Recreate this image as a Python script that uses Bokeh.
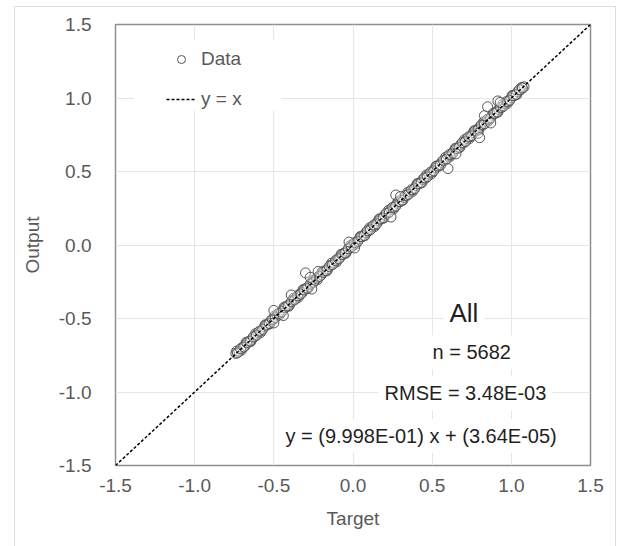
from bokeh.plotting import figure
from bokeh.models import (Range1d, FixedTicker, PrintfTickFormatter, Label,
                          Legend, LegendItem, BoxAnnotation, ColumnDataSource)
from bokeh.embed import file_html
from bokeh.resources import INLINE

# ---------------- data ----------------
axis_limits = [-1.5, 1.5]
tick_values = [-1.5, -1.0, -0.5, 0.0, 0.5, 1.0, 1.5]
identity_line = [-1.5, 1.5]

target_a = [-0.74, -0.72, -0.70, -0.68, -0.66, -0.64, -0.62, -0.60, -0.58, -0.56,
            -0.54, -0.52, -0.50, -0.48, -0.46, -0.44, -0.42, -0.40, -0.38, -0.36,
            -0.34, -0.32, -0.30, -0.28, -0.26, -0.24, -0.22, -0.20, -0.18, -0.16,
            -0.14, -0.12, -0.10, -0.08, -0.06, -0.04, -0.02, 0.00, 0.02, 0.04,
            0.06, 0.08, 0.10, 0.12, 0.14, 0.16, 0.18, 0.20, 0.22, 0.24,
            0.26, 0.28, 0.30, 0.32, 0.34, 0.36, 0.38, 0.40, 0.42, 0.44,
            0.46, 0.48, 0.50, 0.52, 0.54, 0.56, 0.58, 0.60, 0.62, 0.64,
            0.66, 0.68, 0.70, 0.72, 0.74, 0.76, 0.78, 0.80, 0.82, 0.84,
            0.86, 0.88, 0.90, 0.92, 0.94, 0.96, 0.98, 1.00, 1.02, 1.04,
            1.06, 1.08]
output_a = [-0.737, -0.723, -0.698, -0.684, -0.657, -0.643, -0.622, -0.596, -0.584, -0.557,
            -0.543, -0.516, -0.503, -0.477, -0.463, -0.442, -0.416, -0.404, -0.377, -0.364,
            -0.336, -0.323, -0.297, -0.284, -0.256, -0.243, -0.217, -0.203, -0.176, -0.164,
            -0.137, -0.123, -0.098, -0.083, -0.057, -0.043, -0.018, 0.003, 0.017, 0.043,
            0.057, 0.083, 0.097, 0.124, 0.136, 0.163, 0.177, 0.204, 0.216, 0.243,
            0.257, 0.284, 0.296, 0.323, 0.337, 0.364, 0.376, 0.403, 0.417, 0.444,
            0.456, 0.483, 0.497, 0.524, 0.536, 0.563, 0.577, 0.604, 0.616, 0.643,
            0.657, 0.684, 0.696, 0.723, 0.737, 0.764, 0.776, 0.803, 0.817, 0.844,
            0.856, 0.883, 0.897, 0.923, 0.937, 0.962, 0.977, 1.003, 1.017, 1.042,
            1.057, 1.076]

target_b = [-0.73, -0.71, -0.69, -0.67, -0.65, -0.63, -0.61, -0.59, -0.57, -0.55,
            -0.53, -0.51, -0.49, -0.47, -0.45, -0.43, -0.41, -0.39, -0.37, -0.35,
            -0.33, -0.31, -0.29, -0.27, -0.25, -0.23, -0.21, -0.19, -0.17, -0.15,
            -0.13, -0.11, -0.09, -0.07, -0.05, -0.03, -0.01, 0.01, 0.03, 0.05,
            0.07, 0.09, 0.11, 0.13, 0.15, 0.17, 0.19, 0.21, 0.23, 0.25,
            0.27, 0.29, 0.31, 0.33, 0.35, 0.37, 0.39, 0.41, 0.43, 0.45,
            0.47, 0.49, 0.51, 0.53, 0.55, 0.57, 0.59, 0.61, 0.63, 0.65,
            0.67, 0.69, 0.71, 0.73, 0.75, 0.77, 0.79, 0.81, 0.83, 0.85,
            0.87, 0.89, 0.91, 0.93, 0.95, 0.97, 0.99, 1.01, 1.03, 1.05,
            1.07]
output_b = [-0.734, -0.706, -0.694, -0.666, -0.654, -0.626, -0.614, -0.586, -0.574, -0.546,
            -0.534, -0.506, -0.494, -0.466, -0.454, -0.426, -0.414, -0.386, -0.374, -0.346,
            -0.334, -0.306, -0.294, -0.266, -0.254, -0.226, -0.214, -0.186, -0.174, -0.146,
            -0.134, -0.106, -0.094, -0.066, -0.054, -0.026, -0.014, 0.016, 0.024, 0.056,
            0.064, 0.096, 0.104, 0.136, 0.144, 0.176, 0.184, 0.216, 0.224, 0.256,
            0.264, 0.296, 0.304, 0.336, 0.344, 0.376, 0.384, 0.416, 0.424, 0.456,
            0.464, 0.496, 0.504, 0.536, 0.544, 0.576, 0.584, 0.616, 0.624, 0.656,
            0.664, 0.696, 0.704, 0.736, 0.744, 0.776, 0.784, 0.816, 0.824, 0.856,
            0.864, 0.896, 0.904, 0.936, 0.944, 0.976, 0.984, 1.016, 1.024, 1.056,
            1.068]

target_c = [-0.735, -0.705, -0.675, -0.645, -0.615, -0.585, -0.555, -0.525, -0.495, -0.465,
            -0.435, -0.405, -0.375, -0.345, -0.315, -0.285, -0.255, -0.225, -0.195, -0.165,
            -0.135, -0.105, -0.075, -0.045, -0.015, 0.015, 0.045, 0.075, 0.105, 0.135,
            0.165, 0.195, 0.225, 0.255, 0.285, 0.315, 0.345, 0.375, 0.405, 0.435,
            0.465, 0.495, 0.525, 0.555, 0.585, 0.615, 0.645, 0.675, 0.705, 0.735,
            0.765, 0.795, 0.825, 0.855, 0.885, 0.915, 0.945, 0.975, 1.005, 1.035,
            1.065]
output_c = [-0.722, -0.716, -0.662, -0.656, -0.603, -0.597, -0.543, -0.536, -0.483, -0.476,
            -0.423, -0.416, -0.362, -0.356, -0.303, -0.296, -0.243, -0.236, -0.183, -0.176,
            -0.123, -0.116, -0.063, -0.056, -0.003, 0.004, 0.057, 0.064, 0.117, 0.124,
            0.177, 0.184, 0.237, 0.244, 0.297, 0.304, 0.357, 0.364, 0.417, 0.424,
            0.477, 0.484, 0.537, 0.544, 0.597, 0.604, 0.657, 0.664, 0.717, 0.724,
            0.777, 0.784, 0.837, 0.844, 0.897, 0.904, 0.957, 0.964, 1.017, 1.024,
            1.072]

target_out = [-0.50, -0.50, -0.44, -0.39, -0.30, -0.27, -0.26, -0.22, -0.025, 0.01,
              0.24, 0.27, 0.30, 0.60, 0.65, 0.79, 0.80, 0.83, 0.85, 0.87, 0.915, 0.93]
output_out = [-0.445, -0.53, -0.48, -0.34, -0.19, -0.22, -0.30, -0.18, 0.02, -0.02,
              0.19, 0.34, 0.33, 0.52, 0.62, 0.76, 0.73, 0.88, 0.94, 0.83, 0.98, 0.97]

n_points = 5682
rmse_text = "3.48E-03"
slope_text = "9.998E-01"
intercept_text = "3.64E-05"

# ---------------- figure ----------------
FONT = "Liberation Sans"
GRAY = "#595959"

p = figure(width=600, height=540, output_backend="svg", toolbar_location=None,
           x_range=Range1d(*axis_limits), y_range=Range1d(*axis_limits),
           min_border_left=100, min_border_right=25, min_border_top=17,
           min_border_bottom=82)
p.margin = (7, 0, 0, 15)
p.styles = {"box-shadow": "0 0 0 1px #dedede"}
p.background_fill_color = "white"
p.border_fill_color = "white"
p.outline_line_color = "#8f8f8f"
p.outline_line_width = 1.5

for ax in (p.xaxis[0], p.yaxis[0]):
    ax.ticker = FixedTicker(ticks=tick_values)
    ax.formatter = PrintfTickFormatter(format="%.1f")
    ax.axis_line_color = None
    ax.major_tick_line_color = None
    ax.minor_tick_line_color = None
    ax.major_tick_out = 0
    ax.major_tick_in = 0
    ax.major_label_text_font = FONT
    ax.major_label_text_font_size = "19px"
    ax.major_label_text_color = GRAY
    ax.axis_label_text_font = FONT
    ax.axis_label_text_font_size = "19px"
    ax.axis_label_text_color = GRAY
    ax.axis_label_text_font_style = "normal"

p.xaxis.axis_label = "Target"
p.yaxis.axis_label = "Output"
p.xaxis.major_label_standoff = 13
p.xaxis.axis_label_standoff = 13
p.yaxis.major_label_standoff = 24
p.yaxis.axis_label_standoff = 13

p.xgrid.ticker = FixedTicker(ticks=tick_values)
p.ygrid.ticker = FixedTicker(ticks=tick_values)
p.grid.grid_line_color = "#e6e6e6"
p.grid.grid_line_width = 1

src = ColumnDataSource(dict(x=target_c + target_a + target_b + target_out,
                            y=output_c + output_a + output_b + output_out))
data_r = p.scatter("x", "y", source=src, size=10, marker="circle",
                   fill_color="white", fill_alpha=0.3,
                   line_color="#555555", line_width=1)
line_r = p.line(identity_line, identity_line, line_color="black", line_width=1.5,
                line_dash="3 2")

# white box behind legend (as in the original)
p.add_layout(BoxAnnotation(left=-1.383, right=-0.455, bottom=0.915, top=1.391,
                           fill_color="white", fill_alpha=1, line_color=None,
                           level="underlay"))

legend = Legend(items=[LegendItem(label="Data", renderers=[data_r]),
                       LegendItem(label="y = x", renderers=[line_r])],
                location=(51, 355), padding=8, margin=0, spacing=18,
                glyph_width=30, glyph_height=20, label_height=20,
                label_standoff=5, border_line_color=None,
                background_fill_color="white", background_fill_alpha=1,
                label_text_font=FONT, label_text_font_size="19px",
                label_text_color=GRAY)
p.add_layout(legend)

def note(x, y, text, size):
    p.add_layout(Label(x=x, y=y, text=text, text_align="center",
                       text_baseline="middle", text_font=FONT,
                       text_font_size=size, text_color="#1f1f1f",
                       background_fill_color="white", background_fill_alpha=1,
                       padding=6))

note(0.70, -0.46, "All", "26px")
note(0.75, -0.73, f"n = {n_points}", "20px")
note(0.71, -1.01, f"RMSE = {rmse_text}", "20px")
note(0.43, -1.30, f"y = ({slope_text}) x + ({intercept_text})", "20px")

open("out.html", "w").write(file_html(p, INLINE))
